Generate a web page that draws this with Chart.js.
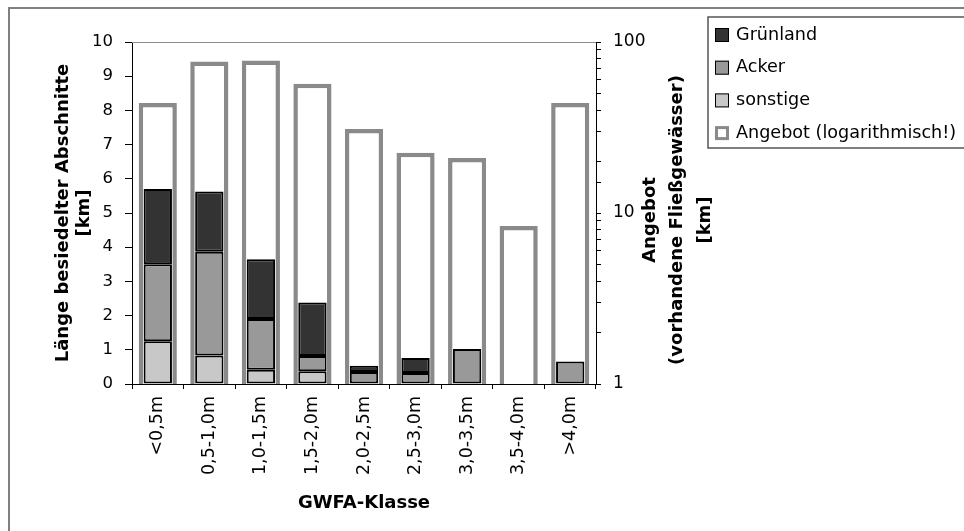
<!DOCTYPE html>
<html>
<head>
<meta charset="utf-8">
<script src="https://cdn.jsdelivr.net/npm/chart.js@4"></script>
<style>
  body { margin: 0; background: #fff; }
</style>
</head>
<body>
<canvas id="myChart" width="964" height="531"></canvas>
<script>
const categories = ['<0,5m', '0,5-1,0m', '1,0-1,5m', '1,5-2,0m', '2,0-2,5m', '2,5-3,0m', '3,0-3,5m', '3,5-4,0m', '>4,0m']
const sonstige = [1.25, 0.83, 0.42, 0.37, 0, 0, 0, 0, 0]
const acker = [2.25, 3.04, 1.48, 0.45, 0.35, 0.32, 1.02, 0, 0.66]
const gruenland = [2.2, 1.76, 1.75, 1.56, 0.18, 0.44, 0, 0, 0]
const angebot = [44, 77, 78, 57, 31, 22.5, 21, 8.4, 44]
const leftTicks = [0, 1, 2, 3, 4, 5, 6, 7, 8, 9, 10]
const rightLabels = [1, 10, 100]

const legendItems = [
    { text: 'Grünland', fill: '#333333', border: '#000', width: 1 },
    { text: 'Acker', fill: '#999999', border: '#000', width: 1 },
    { text: 'sonstige', fill: '#c8c8c8', border: '#000', width: 1 },
    { text: 'Angebot (logarithmisch!)', fill: '#fff', border: '#8a8a8a', width: 3 }
]

const font = 'DejaVu Sans'

// frame, plot top line, right title and legend
const extras = {
    id: 'extras',
    beforeDraw(chart) {
        const ctx = chart.ctx
        ctx.save()
        ctx.fillStyle = '#fff'
        ctx.fillRect(0, 0, chart.width, chart.height)
        ctx.strokeStyle = '#808080'
        ctx.lineWidth = 2
        ctx.strokeRect(9, 8, 1000, 600)
        ctx.restore()
    },
    afterDraw(chart) {
        const ctx = chart.ctx
        const a = chart.chartArea
        ctx.save()
        ctx.strokeStyle = '#8c8c8c'
        ctx.lineWidth = 1
        ctx.beginPath()
        ctx.moveTo(a.left, a.top + 0.5)
        ctx.lineTo(a.right, a.top + 0.5)
        ctx.stroke()

        // right axis title, reading bottom to top
        ctx.fillStyle = '#000'
        ctx.font = 'bold 18px "' + font + '"'
        ctx.textAlign = 'center'
        ctx.textBaseline = 'middle'
        const cy = (a.top + a.bottom) / 2 + 7
        const lines = ['Angebot', '(vorhandene Fließgewässer)', '[km]']
        const xs = [650, 677, 705]
        lines.forEach((t, i) => {
            ctx.save()
            ctx.translate(xs[i], cy)
            ctx.rotate(-Math.PI / 2)
            ctx.fillText(t, 0, 0)
            ctx.restore()
        })

        // legend
        ctx.fillStyle = '#fff'
        ctx.fillRect(708, 17, 300, 131)
        ctx.strokeStyle = '#555'
        ctx.lineWidth = 1.5
        ctx.strokeRect(708, 17, 300, 131)
        ctx.font = '17.6px "' + font + '"'
        ctx.textAlign = 'left'
        legendItems.forEach((it, i) => {
            const y = 35 + i * 32.7
            ctx.fillStyle = it.fill
            ctx.fillRect(715, y - 7, 14, 14)
            ctx.strokeStyle = it.border
            ctx.lineWidth = it.width
            const h = it.width / 2
            ctx.strokeRect(715 + h, y - 7 + h, 14 - it.width, 14 - it.width)
            ctx.fillStyle = '#000'
            ctx.fillText(it.text, 736, y)
        })
        ctx.restore()
    }
}

const data = {
    labels: categories,
    datasets: [
        { label: 'sonstige', data: sonstige, backgroundColor: '#c8c8c8' },
        { label: 'Acker', data: acker, backgroundColor: '#999999' },
        { label: 'Grünland', data: gruenland, backgroundColor: '#333333' }
    ].map(d => Object.assign(d, {
        yAxisID: 'y', stack: 'a', grouped: false, order: 0,
        borderColor: '#000', borderWidth: 2, borderSkipped: false,
        categoryPercentage: 1, barPercentage: 0.55
    })).concat([{
        label: 'Angebot (logarithmisch!)',
        data: angebot,
        yAxisID: 'y1', stack: 'b', grouped: false, order: 1,
        backgroundColor: '#fff', borderColor: '#8a8a8a', borderWidth: 4.5,
        categoryPercentage: 1, barPercentage: 0.74
    }])
}

const config = {
    type: 'bar',
    data,
    plugins: [extras],
    options: {
        responsive: false,
        animation: false,
        layout: { padding: { left: 45, right: 248, top: 42, bottom: 10 } },
        plugins: { legend: { display: false }, tooltip: { enabled: false } },
        scales: {
            x: {
                stacked: true,
                afterFit: s => { s.height = 137 },
                grid: { drawOnChartArea: false, tickLength: 5, tickColor: '#000' },
                border: { color: '#000', width: 1 },
                ticks: { minRotation: 90, maxRotation: 90, padding: 7, color: '#000', font: { family: font, size: 17.5 } },
                title: { display: true, text: 'GWFA-Klasse', color: '#000', font: { family: font, size: 18, weight: 'bold', lineHeight: 1.17 }, padding: { top: 0, bottom: 7.5 } }
            },
            y: {
                position: 'left',
                stacked: true,
                min: 0, max: 10,
                afterFit: s => { s.width = 87 },
                afterBuildTicks: s => { s.ticks = leftTicks.map(v => ({ value: v })) },
                grid: { drawOnChartArea: false, tickLength: 7, tickColor: '#000' },
                border: { color: '#000', width: 1 },
                ticks: { padding: 12, color: '#000', font: { family: font, size: 16.5 } },
                title: { display: true, text: ['Länge besiedelter Abschnitte', '[km]'], color: '#000', font: { family: font, size: 18, weight: 'bold', lineHeight: 1.17 }, padding: { top: 7.5, bottom: 0 } }
            },
            y1: {
                type: 'logarithmic',
                position: 'right',
                stacked: false,
                min: 1, max: 100,
                afterFit: s => { s.width = 120 },
                grid: { drawOnChartArea: false, tickLength: 5, tickColor: '#000' },
                border: { color: '#000', width: 1 },
                ticks: {
                    padding: 12, color: '#000', font: { family: font, size: 17 }, autoSkip: false,
                    callback: v => rightLabels.includes(v) ? String(v) : ''
                }
            }
        }
    }
}

new Chart(document.getElementById('myChart'), config)
</script>
</body>
</html>
